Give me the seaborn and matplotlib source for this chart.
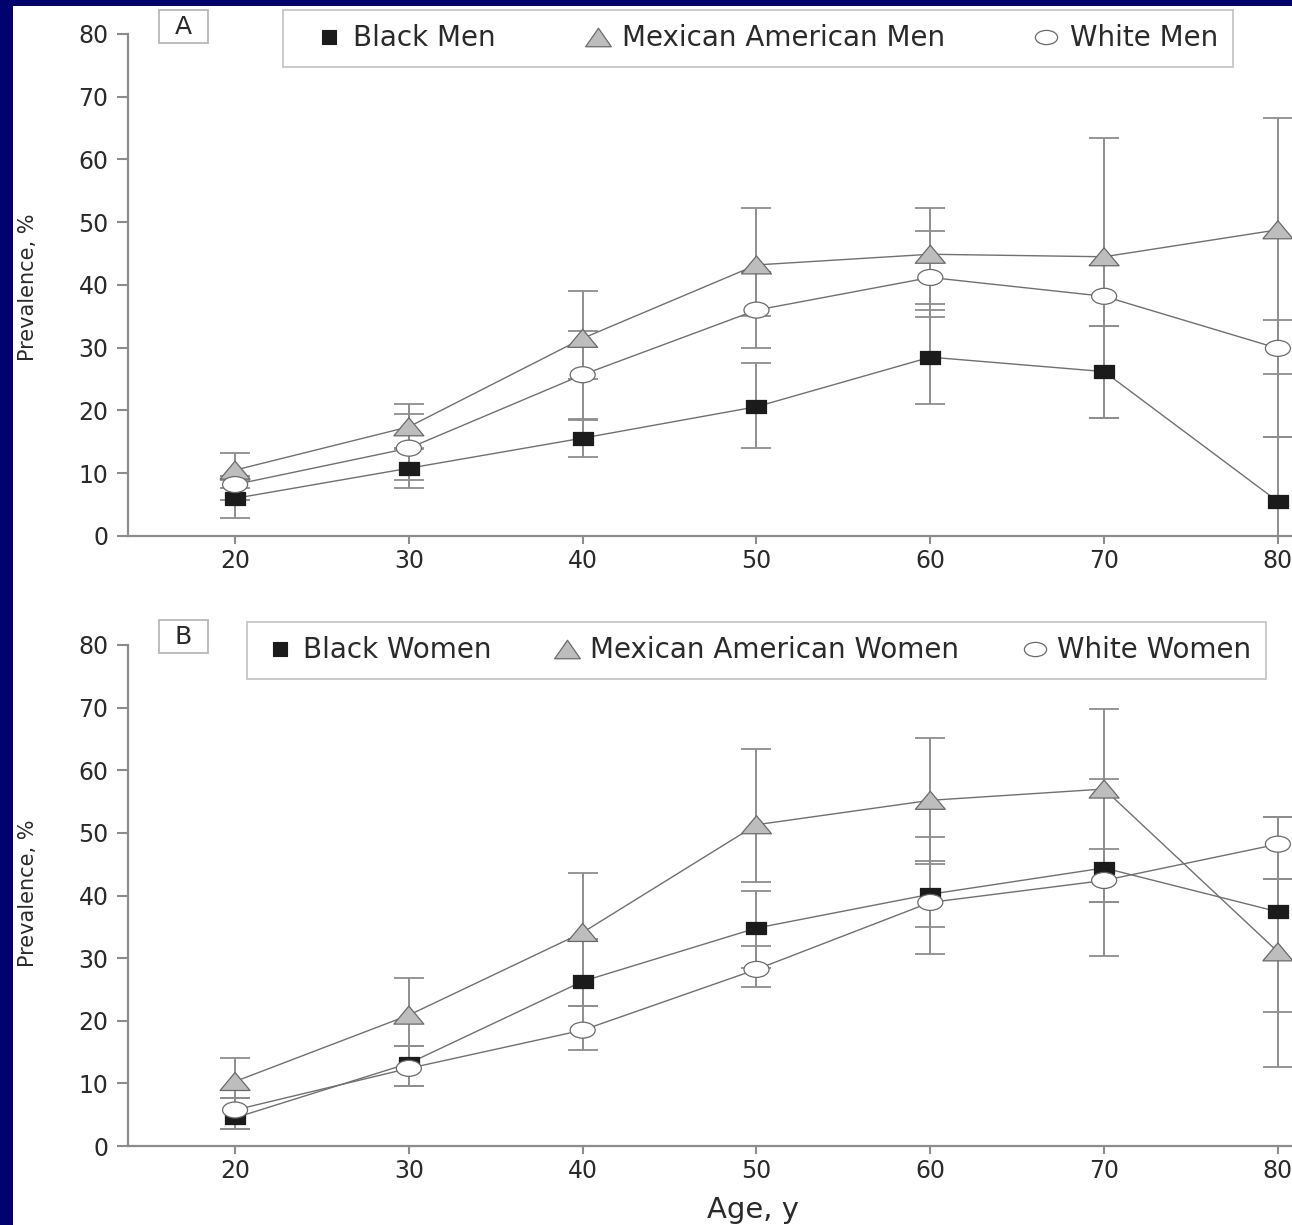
import numpy as np
import pandas as pd
import matplotlib
matplotlib.use("Agg")
import matplotlib.pyplot as plt
import seaborn as sns
from matplotlib.path import Path
from matplotlib.transforms import Affine2D
from matplotlib.lines import Line2D
from matplotlib.patches import Rectangle
from matplotlib import font_manager

# ---------------------------------------------------------------- data
ages = [20, 30, 40, 50, 60, 70, 80]

# Panel A: men (prevalence and 95% CI bounds, %)
black_men = [6.0, 10.8, 15.6, 20.6, 28.5, 26.2, 5.5]
black_men_lo = [2.8, 7.6, 12.6, 14.0, 21.0, 18.8, -4.8]
black_men_hi = [9.0, 14.0, 18.6, 27.6, 36.0, 33.4, 15.8]

mexam_men = [10.5, 17.4, 31.5, 43.2, 44.9, 44.5, 48.8]
mexam_men_lo = [7.7, 13.8, 25.0, 35.0, 37.0, 18.8, 15.8]
mexam_men_hi = [13.3, 21.0, 39.1, 52.2, 52.2, 63.4, 66.6]

white_men = [8.2, 14.0, 25.7, 36.0, 41.2, 38.2, 29.9]
white_men_lo = [5.7, 9.0, 18.5, 30.0, 34.9, 33.4, 25.8]
white_men_hi = [9.6, 19.4, 32.7, 42.0, 48.6, 43.2, 34.4]

# Panel B: women
black_women = [4.5, 13.2, 26.3, 34.8, 40.2, 44.4, 37.4]
black_women_lo = [2.7, 9.6, 22.3, 28.5, 30.6, 30.4, 21.4]
black_women_hi = [7.6, 15.9, 33.0, 40.7, 49.3, 58.6, 42.7]

mexam_women = [10.3, 20.9, 34.1, 51.3, 55.2, 57.0, 31.0]
mexam_women_lo = [7.6, 15.9, 22.3, 42.2, 45.0, 39.0, 12.6]
mexam_women_hi = [14.1, 26.8, 43.6, 63.4, 65.2, 69.8, 52.5]

white_women = [5.75, 12.4, 18.5, 28.2, 38.9, 42.4, 48.2]
white_women_lo = [2.7, 9.6, 15.3, 25.4, 34.9, 39.0, 42.7]
white_women_hi = [7.6, 15.9, 22.3, 32.0, 45.5, 47.4, 52.5]

labels_a = ["Black Men", "Mexican American Men", "White Men"]
labels_b = ["Black Women", "Mexican American Women", "White Women"]
y_ticks = [0, 10, 20, 30, 40, 50, 60, 70, 80]

# ---------------------------------------------------------------- style
NAVY = "#02026e"
SPINE = "#8c8c8c"
BAR = "#8e8e8e"
LINE = "#707070"
TEXT = "#2a2a2a"
FRAME = "#b8b8b8"

W, H = 1292, 1225

# marker shapes (wider than tall)
rect_path = Path([(-0.5, -0.32), (0.5, -0.32), (0.5, 0.32), (-0.5, 0.32), (-0.5, -0.32)], closed=True)
square_path = Path([(-0.5, -0.5), (0.5, -0.5), (0.5, 0.5), (-0.5, 0.5), (-0.5, -0.5)], closed=True)
tri_path = Path([(-0.5, -0.3), (0.5, -0.3), (0.0, 0.3), (-0.5, -0.3)], closed=True)
tri_leg_path = Path([(-0.5, -0.36), (0.5, -0.36), (0.0, 0.36), (-0.5, -0.36)], closed=True)
ell_path = Affine2D().scale(1.0, 0.64).transform_path(Path.unit_circle())

roles = {
    "black": dict(marker=rect_path, face="#1b1b1b", edge="#1b1b1b", s=14.4 ** 2),
    "mexam": dict(marker=tri_path, face="#bdbdbd", edge="#6a6a6a", s=21.6 ** 2),
    "white": dict(marker=ell_path, face="#ffffff", edge="#6a6a6a", s=18.0 ** 2),
}

sns.set_theme(style="ticks")
plt.rcParams["font.family"] = ["DejaVu Sans"]
plt.rcParams["text.color"] = TEXT

available = {f.name for f in font_manager.fontManager.ttflist}
if "Liberation Sans Narrow" in available:
    ylab_family, ylab_size = ["Liberation Sans Narrow", "DejaVu Sans"], 19
else:
    ylab_family, ylab_size = ["DejaVu Sans"], 15


def panel_frame(series):
    rows = []
    for role, name, vals, lo, hi in series:
        for a, v, l, h in zip(ages, vals, lo, hi):
            rows.append(dict(age=a, group=name, role=role, prev=v, lo=l, hi=h))
    return pd.DataFrame(rows)


def draw_panel(ax, df, names):
    # confidence intervals
    for name in names:
        d = df[df["group"] == name]
        ax.errorbar(d["age"], d["prev"], yerr=[d["prev"] - d["lo"], d["hi"] - d["prev"]],
                    fmt="none", ecolor=BAR, elinewidth=1.4, capsize=10.8,
                    capthick=1.3, zorder=1)
    # connecting lines
    sns.lineplot(data=df, x="age", y="prev", units="group", estimator=None,
                 color=LINE, lw=1.0, ax=ax, legend=False, zorder=2, sort=True)
    # markers
    rmap = dict(zip(names, ["black", "mexam", "white"]))
    sns.scatterplot(data=df, x="age", y="prev", hue="group", style="group", size="group",
                    palette={n: roles[rmap[n]]["face"] for n in names},
                    markers={n: roles[rmap[n]]["marker"] for n in names},
                    sizes={n: roles[rmap[n]]["s"] for n in names},
                    edgecolor=[roles[r]["edge"] for r in df["role"]],
                    linewidth=0.9, legend=False, ax=ax, zorder=3)

    ax.set_xlim(13.84, 80.81)
    ax.set_ylim(0, 80)
    ax.set_xticks(ages)
    ax.set_yticks(y_ticks)
    ax.set_xlabel("")
    ax.set_ylabel("")
    sns.despine(ax=ax)
    for side in ("left", "bottom"):
        ax.spines[side].set_color(SPINE)
        ax.spines[side].set_linewidth(1.6)
    ax.tick_params(axis="y", length=8, width=1.5, color=SPINE, labelsize=17,
                   labelcolor=TEXT, pad=6)
    ax.tick_params(axis="x", length=5.5, width=1.5, color=SPINE, labelsize=17,
                   labelcolor=TEXT, pad=4)
    ax.set_facecolor("white")


def legend_handles():
    return [
        Line2D([], [], linestyle="none", marker=square_path, markersize=10,
               markerfacecolor="#1b1b1b", markeredgecolor="#1b1b1b", markeredgewidth=0.8),
        Line2D([], [], linestyle="none", marker=tri_leg_path, markersize=18.5,
               markerfacecolor="#bdbdbd", markeredgecolor="#6a6a6a", markeredgewidth=0.9),
        Line2D([], [], linestyle="none", marker=ell_path, markersize=16,
               markerfacecolor="white", markeredgecolor="#6a6a6a", markeredgewidth=0.9),
    ]


fig = plt.figure(figsize=(W / 100, H / 100), dpi=100)
fig.patch.set_facecolor("white")

axA = fig.add_axes([128 / W, 1 - 536 / H, 1 - 128 / W, 502 / H])
axB = fig.add_axes([128 / W, 1 - 1146 / H, 1 - 128 / W, 501 / H])

dfA = panel_frame([
    ("black", labels_a[0], black_men, black_men_lo, black_men_hi),
    ("mexam", labels_a[1], mexam_men, mexam_men_lo, mexam_men_hi),
    ("white", labels_a[2], white_men, white_men_lo, white_men_hi),
])
dfB = panel_frame([
    ("black", labels_b[0], black_women, black_women_lo, black_women_hi),
    ("mexam", labels_b[1], mexam_women, mexam_women_lo, mexam_women_hi),
    ("white", labels_b[2], white_women, white_women_lo, white_women_hi),
])

draw_panel(axA, dfA, labels_a)
draw_panel(axB, dfB, labels_b)

# legends
legA = axA.legend(legend_handles(), labels_a, ncol=3, loc="upper left",
                  bbox_to_anchor=(283 / W, 1 - 10 / H, 950 / W, 0.0),
                  bbox_transform=fig.transFigure, mode="expand", borderaxespad=0,
                  fontsize=20, frameon=True, fancybox=False, edgecolor=FRAME,
                  handlelength=2.3, handletextpad=-0.29, borderpad=0.52)
legA.get_frame().set_linewidth(1.3)
legB = axB.legend(legend_handles(), labels_b, ncol=3, loc="upper left",
                  bbox_to_anchor=(247 / W, 1 - 622 / H, 1019 / W, 0.0),
                  bbox_transform=fig.transFigure, mode="expand", borderaxespad=0,
                  fontsize=20, frameon=True, fancybox=False, edgecolor=FRAME,
                  handlelength=1.37, handletextpad=0.14, borderpad=0.52)
legB.get_frame().set_linewidth(1.3)
for leg in (legA, legB):
    for t in leg.get_texts():
        t.set_color(TEXT)

# panel letters in small boxes
for letter, top in (("A", 10), ("B", 620)):
    fig.add_artist(Rectangle((159 / W, 1 - (top + 33) / H), 49 / W, 33 / H,
                             transform=fig.transFigure, fill=False, ec=FRAME, lw=1.3))
    fig.text(183.5 / W, 1 - (top + 17) / H, letter, ha="center", va="center",
             fontsize=18, color=TEXT)

# axis titles
for yc in (287, 893):
    fig.text(28 / W, 1 - yc / H, "Prevalence, %", rotation=90, ha="center", va="center",
             fontsize=ylab_size, family=ylab_family, color=TEXT)
fig.text(753 / W, 1 - 1210 / H, "Age, y", ha="center", va="center", fontsize=21, color=TEXT)

# dark slide border on the left and top
fig.add_artist(Rectangle((0, 0), 12.5 / W, 1, transform=fig.transFigure,
                         color=NAVY, lw=0, zorder=10))
fig.add_artist(Rectangle((0, 1 - 6 / H), 1, 6 / H, transform=fig.transFigure,
                         color=NAVY, lw=0, zorder=10))

fig.savefig("out.png", dpi=100, facecolor="white")
